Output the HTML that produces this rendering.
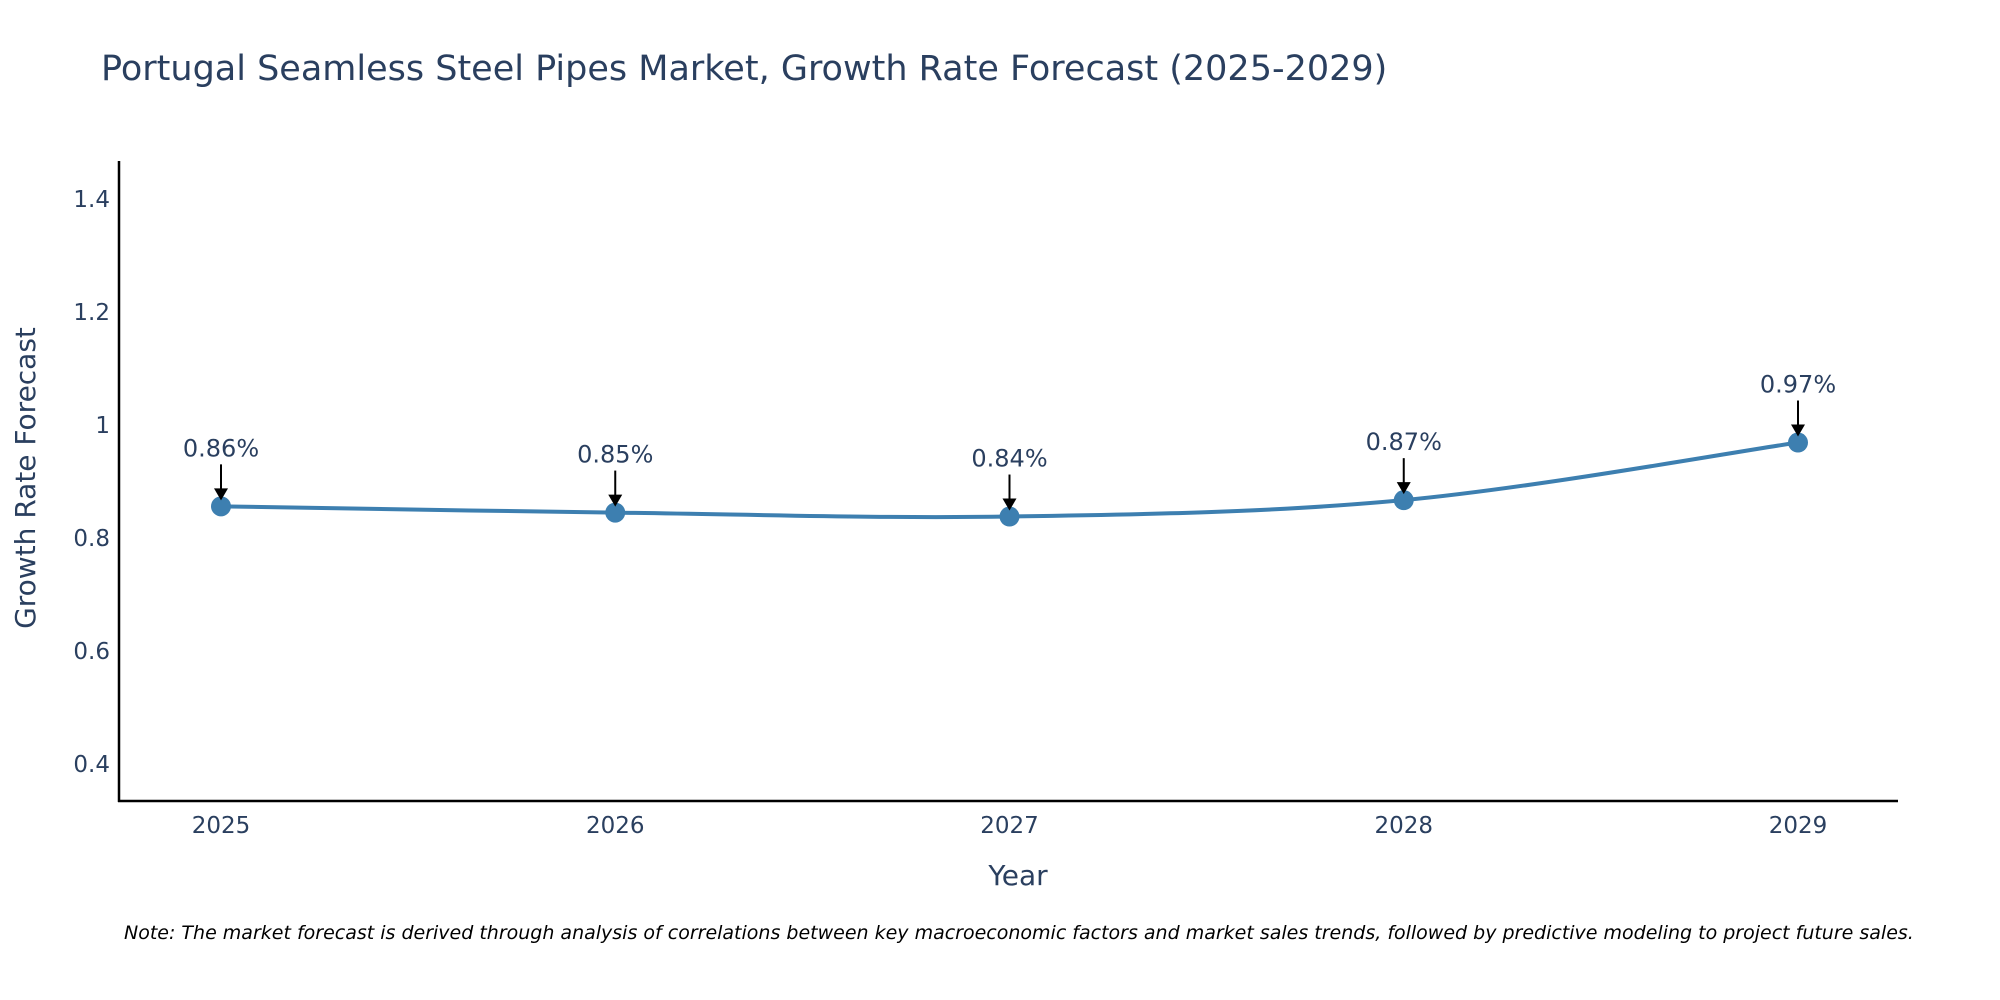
<!DOCTYPE html>
<html><head><meta charset="utf-8"><style>
body{margin:0;background:#fff;}
svg{display:block;font-family:"DejaVu Sans","Liberation Sans",sans-serif;}
</style></head><body>
<svg id="chart" width="2000" height="1000">
<text x="101" y="80" font-size="35" fill="#2a3f5f">Portugal Seamless Steel Pipes Market, Growth Rate Forecast (2025-2029)</text>
<g id="yticks"></g><g id="xticks"></g>
<line x1="119" y1="161" x2="119" y2="802" stroke="#000" stroke-width="2.5"/>
<line x1="118" y1="801" x2="1898" y2="801" stroke="#000" stroke-width="2.5"/>
<path id="line" fill="none" stroke="#3d7fb0" stroke-width="4"/>
<g id="marks"></g>
<text x="1018" y="885" font-size="28" fill="#2a3f5f" text-anchor="middle">Year</text>
<text transform="translate(35,478) rotate(-90)" font-size="28" fill="#2a3f5f" text-anchor="middle">Growth Rate Forecast</text>
<text x="124" y="939" font-size="19" font-style="italic" fill="#000">Note: The market forecast is derived through analysis of correlations between key macroeconomic factors and market sales trends, followed by predictive modeling to project future sales.</text>
</svg>
<script>
const years=["2025","2026","2027","2028","2029"];
const values=[0.856,0.845,0.838,0.867,0.969];
const labels=["0.86%","0.85%","0.84%","0.87%","0.97%"];
const yTicks=[0.4,0.6,0.8,1,1.2,1.4];
const yTickLabels=["0.4","0.6","0.8","1","1.2","1.4"];
const NS="http://www.w3.org/2000/svg";
const x=i=>221+i*(1798-221)/(years.length-1);
const y=v=>764-(v-0.4)*(565/1.0);
function mk(t,a,p){const e=document.createElementNS(NS,t);for(const k in a)e.setAttribute(k,a[k]);p.appendChild(e);return e;}
const yt=document.getElementById('yticks');
yTicks.forEach((v,i)=>{const t=mk('text',{x:110,y:y(v)+8,'font-size':23,fill:'#2a3f5f','text-anchor':'end'},yt);t.textContent=yTickLabels[i];

});
const xt=document.getElementById('xticks');
years.forEach((yr,i)=>{const t=mk('text',{x:x(i),y:833,'font-size':23,fill:'#2a3f5f','text-anchor':'middle'},xt);t.textContent=yr;

});
const P=values.map((v,i)=>[x(i),y(v)]);
let d=`M${P[0][0]},${P[0][1]}`;
for(let i=0;i<P.length-1;i++){const p0=P[Math.max(0,i-1)],p1=P[i],p2=P[i+1],p3=P[Math.min(P.length-1,i+2)];const s=1/6;
d+=` C${p1[0]+(p2[0]-p0[0])*s},${p1[1]+(p2[1]-p0[1])*s} ${p2[0]-(p3[0]-p1[0])*s},${p2[1]-(p3[1]-p1[1])*s} ${p2[0]},${p2[1]}`;}
document.getElementById('line').setAttribute('d',d);
const m=document.getElementById('marks');
P.forEach((p,i)=>{
const c=mk('circle',{cx:p[0],cy:p[1],r:10,fill:'#3d7fb0'},m);


const l=mk('line',{x1:p[0],y1:p[1]-42,x2:p[0],y2:p[1]-14,stroke:'#000','stroke-width':2},m);


const h=mk('polygon',{points:`${p[0]-7},${p[1]-18} ${p[0]+7},${p[1]-18} ${p[0]},${p[1]-6}`,fill:'#000'},m);


const t=mk('text',{x:p[0],y:p[1]-50,'font-size':24,fill:'#2a3f5f','text-anchor':'middle'},m);t.textContent=labels[i];


});
</script>
</body></html>
